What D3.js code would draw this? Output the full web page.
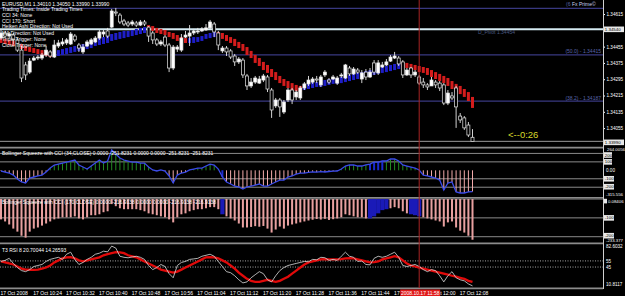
<!DOCTYPE html>
<html>
<head>
<meta charset="utf-8">
<script src="https://cdn.jsdelivr.net/npm/d3@7"></script>
<style>
  body { margin: 0; background: #000; }
  svg { display: block; }
  text { font-family: "Liberation Sans", Arial, sans-serif; }
</style>
</head>
<body>
<svg id="chart" width="625" height="296"></svg>
<script>
// ---- data ----
const startTime = new Date(2008, 9, 17, 10, 16);
const crossTime = new Date(2008, 9, 17, 11, 58);

// open, high, low, close
const candles = [
  [1.34497,1.34537,1.34488,1.34522],[1.34522,1.34532,1.34497,1.34507],[1.34507,1.34527,1.34497,1.34517],
  [1.34512,1.34522,1.34468,1.34488],[1.34488,1.34497,1.34429,1.34438],[1.34438,1.34458,1.34281,1.34301],
  [1.34365,1.34380,1.34291,1.34316],[1.34330,1.34399,1.34321,1.34384],[1.34389,1.34409,1.34384,1.34399],
  [1.34399,1.34414,1.34389,1.34404],[1.34399,1.34424,1.34389,1.34414],[1.34414,1.34458,1.34404,1.34438],
  [1.34429,1.34438,1.34399,1.34409],[1.34404,1.34488,1.34399,1.34463],[1.34458,1.34488,1.34448,1.34473],
  [1.34468,1.34497,1.34458,1.34478],[1.34473,1.34497,1.34463,1.34488],[1.34468,1.34527,1.34463,1.34517],
  [1.34507,1.34517,1.34478,1.34488],[1.34463,1.34473,1.34429,1.34448],[1.34429,1.34468,1.34419,1.34453],
  [1.34458,1.34488,1.34453,1.34478],[1.34468,1.34497,1.34463,1.34488],[1.34478,1.34507,1.34473,1.34497],
  [1.34497,1.34537,1.34488,1.34527],[1.34517,1.34537,1.34502,1.34527],[1.34532,1.34547,1.34497,1.34507],
  [1.34551,1.34640,1.34547,1.34630],[1.34625,1.34645,1.34605,1.34620],[1.34610,1.34620,1.34566,1.34576],
  [1.34581,1.34591,1.34556,1.34566],[1.34571,1.34581,1.34551,1.34561],[1.34566,1.34586,1.34556,1.34576],
  [1.34571,1.34581,1.34551,1.34561],[1.34561,1.34586,1.34556,1.34576],[1.34576,1.34586,1.34556,1.34566],
  [1.34551,1.34556,1.34478,1.34507],[1.34522,1.34532,1.34468,1.34488],[1.34488,1.34497,1.34458,1.34468],
  [1.34468,1.34488,1.34458,1.34478],[1.34502,1.34512,1.34453,1.34463],[1.34463,1.34473,1.34330,1.34350],
  [1.34350,1.34463,1.34340,1.34453],[1.34443,1.34463,1.34429,1.34453],[1.34438,1.34517,1.34429,1.34497],
  [1.34502,1.34532,1.34497,1.34512],[1.34507,1.34561,1.34458,1.34522],[1.34522,1.34542,1.34512,1.34532],
  [1.34527,1.34547,1.34517,1.34532],[1.34532,1.34551,1.34527,1.34542],[1.34537,1.34566,1.34532,1.34547],
  [1.34547,1.34586,1.34537,1.34576],[1.34566,1.34576,1.34502,1.34527],[1.34522,1.34532,1.34438,1.34463],
  [1.34434,1.34458,1.34424,1.34448],[1.34448,1.34458,1.34409,1.34429],[1.34434,1.34443,1.34394,1.34404],
  [1.34409,1.34419,1.34360,1.34380],[1.34380,1.34404,1.34370,1.34394],[1.34389,1.34399,1.34301,1.34316],
  [1.34311,1.34321,1.34242,1.34262],[1.34262,1.34301,1.34252,1.34281],[1.34281,1.34311,1.34272,1.34301],
  [1.34276,1.34311,1.34272,1.34296],[1.34291,1.34321,1.34281,1.34311],[1.34306,1.34316,1.34232,1.34247],
  [1.34242,1.34252,1.34105,1.34144],[1.34164,1.34203,1.34154,1.34193],[1.34193,1.34203,1.34110,1.34159],
  [1.34134,1.34193,1.34124,1.34183],[1.34193,1.34252,1.34183,1.34242],[1.34242,1.34252,1.34173,1.34193],
  [1.34208,1.34242,1.34193,1.34232],[1.34203,1.34262,1.34193,1.34252],[1.34252,1.34281,1.34242,1.34272],
  [1.34272,1.34311,1.34262,1.34291],[1.34281,1.34306,1.34272,1.34296],[1.34296,1.34311,1.34276,1.34291],
  [1.34267,1.34316,1.34257,1.34306],[1.34316,1.34340,1.34306,1.34330],[1.34291,1.34301,1.34272,1.34281],
  [1.34296,1.34316,1.34291,1.34306],[1.34276,1.34311,1.34267,1.34301],[1.34311,1.34326,1.34301,1.34316],
  [1.34301,1.34370,1.34296,1.34365],[1.34350,1.34360,1.34311,1.34321],[1.34321,1.34355,1.34316,1.34345],
  [1.34340,1.34350,1.34321,1.34330],[1.34296,1.34340,1.34276,1.34326],[1.34330,1.34345,1.34291,1.34306],
  [1.34306,1.34350,1.34301,1.34330],[1.34375,1.34389,1.34316,1.34330],[1.34326,1.34389,1.34316,1.34375],
  [1.34355,1.34380,1.34350,1.34365],[1.34365,1.34394,1.34360,1.34380],[1.34384,1.34414,1.34380,1.34404],
  [1.34399,1.34429,1.34394,1.34409],[1.34399,1.34409,1.34360,1.34370],[1.34380,1.34389,1.34301,1.34316],
  [1.34316,1.34350,1.34311,1.34340],[1.34350,1.34355,1.34301,1.34316],[1.34316,1.34340,1.34306,1.34330],
  [1.34306,1.34316,1.34267,1.34276],[1.34281,1.34301,1.34252,1.34267],[1.34267,1.34276,1.34242,1.34257],
  [1.34262,1.34306,1.34262,1.34291],[1.34281,1.34291,1.34252,1.34267],[1.34276,1.34286,1.34237,1.34252],
  [1.34267,1.34276,1.34168,1.34178],[1.34178,1.34242,1.34168,1.34227],[1.34213,1.34232,1.34193,1.34203],
  [1.34252,1.34262,1.34056,1.34159],[1.34114,1.34129,1.34080,1.34095],[1.34105,1.34114,1.34046,1.34056],
  [1.34070,1.34085,1.34011,1.34021],[1.34010,1.34050,1.33990,1.33990]
];

// smoothed heiken ashi ribbon: haOpen, haClose
const heikenAshi = [
  [1.34497,1.34473],[1.34493,1.34468],[1.34488,1.34463],[1.34483,1.34458],[1.34478,1.34453],[1.34468,1.34443],
  [1.34458,1.34434],[1.34453,1.34429],[1.34448,1.34424],[1.34443,1.34419],[1.34438,1.34414],[1.34434,1.34409],
  [1.34429,1.34404],[1.34404,1.34434],[1.34409,1.34438],[1.34414,1.34443],[1.34419,1.34448],[1.34424,1.34453],
  [1.34429,1.34458],[1.34434,1.34463],[1.34438,1.34468],[1.34443,1.34473],[1.34448,1.34478],[1.34458,1.34488],
  [1.34463,1.34497],[1.34468,1.34502],[1.34473,1.34507],[1.34483,1.34517],[1.34488,1.34522],[1.34493,1.34527],
  [1.34497,1.34532],[1.34502,1.34532],[1.34507,1.34537],[1.34512,1.34542],[1.34517,1.34547],[1.34522,1.34551],
  [1.34561,1.34537],[1.34556,1.34532],[1.34547,1.34522],[1.34542,1.34517],[1.34537,1.34512],[1.34527,1.34502],
  [1.34522,1.34493],[1.34512,1.34483],[1.34502,1.34473],[1.34497,1.34473],[1.34473,1.34497],[1.34473,1.34502],
  [1.34478,1.34502],[1.34483,1.34507],[1.34493,1.34517],[1.34497,1.34522],[1.34502,1.34527],[1.34527,1.34502],
  [1.34522,1.34493],[1.34512,1.34483],[1.34502,1.34473],[1.34493,1.34458],[1.34478,1.34448],[1.34468,1.34434],
  [1.34453,1.34414],[1.34434,1.34399],[1.34414,1.34375],[1.34399,1.34360],[1.34380,1.34340],[1.34365,1.34326],
  [1.34345,1.34306],[1.34330,1.34291],[1.34311,1.34276],[1.34296,1.34262],[1.34286,1.34252],[1.34276,1.34242],
  [1.34267,1.34237],[1.34262,1.34232],[1.34242,1.34272],[1.34247,1.34276],[1.34252,1.34281],[1.34257,1.34281],
  [1.34257,1.34286],[1.34262,1.34291],[1.34267,1.34296],[1.34272,1.34301],[1.34272,1.34301],[1.34276,1.34306],
  [1.34281,1.34311],[1.34286,1.34316],[1.34291,1.34321],[1.34296,1.34326],[1.34301,1.34330],[1.34306,1.34335],
  [1.34311,1.34340],[1.34316,1.34345],[1.34321,1.34350],[1.34326,1.34355],[1.34330,1.34360],[1.34335,1.34365],
  [1.34340,1.34370],[1.34345,1.34375],[1.34380,1.34355],[1.34375,1.34350],[1.34370,1.34345],[1.34365,1.34340],
  [1.34360,1.34330],[1.34355,1.34326],[1.34350,1.34316],[1.34340,1.34306],[1.34330,1.34296],[1.34321,1.34286],
  [1.34311,1.34276],[1.34301,1.34262],[1.34286,1.34247],[1.34272,1.34232],[1.34262,1.34222],[1.34247,1.34208],
  [1.34232,1.34188],[1.34208,1.34154]
];

const cci34 = [
  -8,-20,-32,-56,-103,-138,-150,-91,-79,-67, -56,-20,27,63,74,86,98,110,122,63,
  39,15,51,86,122,86,110,240,193,145, 122,110,98,98,86,86,39,4,-8,4,
  -8,-67,-150,-56,-32,-20,4,15,27,27, 51,74,63,15,-79,-138,-162,-186,-197,-221,
  -197,-186,-174,-162,-186,-186,-162,-138,-115,-115, -79,-67,-44,-32,-32,-24,-18,-22,-16,-20,
  -14,-10,-8,15,51,63,63,51,51,63, 74,98,98,110,110,134,134,110,63,51,
  39,27,4,-56,-67,-79,-91,-115,-233,-150, -138,-256,-268,-268,-256,-251.8231
];
const cci170 = [
  -108,-119,-135,-157,-173,-195,-205,-173,-157,-151, -141,-130,-119,-108,-103,-97,-97,-97,-92,-103,
  -108,-97,-86,-86,-81,-70,-65,-27,-38,-49, -54,-54,-54,-54,-59,-65,-76,-81,-86,-92,
  -97,-108,-124,-97,-81,-76,-65,-59,-54,-54, -49,-43,-43,-54,-81,-92,-103,-114,-130,-151,
  -151,-148,-144,-147,-143,-157,-178,-162,-146,-157, -141,-135,-130,-124,-119,-114,-110,-106,-109,-105,
  -111,-107,-103,-97,-81,-86,-92,-97,-97,-103, -103,-92,-76,-59,-54,-49,-43,-49,-65,-76,
  -81,-86,-92,-97,-103,-108,-114,-119,-146,-124, -119,-151,-168,-178,-195,-216
];
const squeeze34 = [54, 90, 91, 92, 93];
const squeeze170 = [54, 90, 91, 92, 93, 94, 100, 101, 102];

const rsi8 = [
  54.2,55.9,59.2,50.9,44.2,39.2,37.5,40.8,45.9,47.5, 49.2,54.2,57.5,59.2,60.9,57.5,65.9,69.2,57.5,49.2,
  52.5,57.5,60.9,65.9,67.6,70.9,69.8,79.2,75.9,62.6, 60.9,60.1,61.5,62.6,60.9,57.5,47.5,40.8,44.2,49.2,
  45.9,34.2,27.5,47.5,52.5,54.2,57.5,58.3,59.2,62.6, 64.2,65.9,62.6,54.2,45.9,37.5,35.8,30.8,24.2,19.1,
  20.8,27.5,32.5,37.5,34.2,24.2,20.8,30.8,39.2,44.2, 47.5,49.2,50.9,52.5,54.2,53.6,57.5,56.8,60.9,60.2,
  55.9,57.5,55.9,62.6,69.2,62.6,60.9,54.2,54.9,49.2, 48.6,59.2,62.6,60.9,62.6,65.9,69.2,60.9,47.5,45.9,
  47.5,49.2,45.9,40.8,37.5,40.8,39.2,30.8,20.8,30.8, 37.5,27.5,24.2,22.5,17.5,14.26593
];
const t3rsi = [
  54.2,52.5,50.9,49.2,45.9,42.5,40.8,40.6,40.5,40.8, 42.5,44.2,47.5,52.5,55.9,59.2,60.9,61.2,59.2,55.9,
  54.2,55.9,57.5,59.2,60.9,64.2,65.9,67.6,69.2,68.8, 67.6,64.2,62.6,60.9,57.5,54.2,50.9,47.5,44.2,40.8,
  39.2,37.5,35.8,37.5,40.8,44.2,47.5,50.9,54.2,57.5, 60.9,61.3,60.9,59.2,55.9,52.5,47.5,42.5,35.8,30.8,
  25.8,22.5,20.8,20.9,22.5,24.2,22.5,20.8,22.5,25.8, 29.2,34.2,39.2,44.2,49.2,52.5,54.2,55.9,57.5,57.8,
  57.6,57.4,57.5,57.9,59.2,59.4,59.1,57.5,55.9,54.2, 52.5,52.9,54.2,57.5,59.2,60.9,62.6,60.9,55.9,50.9,
  47.5,45.9,44.2,42.5,40.8,39.2,37.5,35.8,34.2,32.5, 30.8,29.2,27.5,25.8,22.5,20.70044
];

const priceTicks = [1.34615, 1.34455, 1.34375, 1.34295, 1.34215, 1.34135, 1.34055];
const fibNames = ["61.8", "50.0", "38.2"];
const fibPrices = [1.34643, 1.34415, 1.34187];
const pivotPrice = 1.34540;
const bidPrice = 1.33990;
const cci34Levels = [200, 100, -100, -200];
const cci170Levels = [0, -100, -200];
const rsiLevels = [55, 45];
const commentLines = [
  "EURUSD,M1  1.34010 1.34050 1.33990 1.33990",
  "Trading Times: Inside Trading Times",
  "CCI 34: None",
  "CCI 170: Short",
  "Heiken Ashi Direction: Not Used",
  "MA Direction: Not Used",
  "Triple Trigger: None",
  "Close Trigger: None"
];

// ---- layout ----
const W = 625, H = 296, plotRight = 603;
const svg = d3.select("#chart");
svg.append("rect").attr("width", W).attr("height", H).attr("fill", "#000");

const times = candles.map((d, i) => d3.timeMinute.offset(startTime, i));
const x = d3.scaleTime().domain(d3.extent(times)).range([1, 472.5]);

const yPrice = d3.scaleLinear().domain([1.33972, 1.34684]).range([145, 0]);
const yCci34 = d3.scaleLinear().domain([-315.556, 264.0056]).range([197, 148]);
const yCci170 = d3.scaleLinear().domain([-233.377, 0.08406]).range([243, 199]);
const yRsi = d3.scaleLinear().domain([10.8117, 82.6032]).range([288, 244]);

const defs = svg.append("defs");
function clip(id, y0, y1) {
  defs.append("clipPath").attr("id", id).append("rect")
    .attr("x", 0).attr("y", y0).attr("width", plotRight).attr("height", y1 - y0);
  return svg.append("g").attr("clip-path", "url(#" + id + ")");
}

function hline(g, y, color, w, dash) {
  g.append("line").attr("x1", 0).attr("x2", plotRight).attr("y1", y).attr("y2", y)
    .attr("stroke", color).attr("stroke-width", w).attr("stroke-dasharray", dash || null);
}

function label(g, txt, xx, yy, color, size, anchor) {
  return g.append("text").attr("x", xx).attr("y", yy).attr("fill", color)
    .attr("font-size", size).attr("text-anchor", anchor || "start").text(txt);
}

// ---- main price panel ----
const gMain = clip("clip-main", 0, 146);

fibPrices.forEach(p => hline(gMain, yPrice(p), "#383880", 1.2));
hline(gMain, yPrice(pivotPrice), "#d4eaf2", 2);
hline(gMain, yPrice(bidPrice), "#9a9a9a", 1);

gMain.append("g").selectAll("rect")
  .data(heikenAshi)
  .enter().append("rect")
  .attr("x", (d, i) => x(times[i]) - 1.5)
  .attr("width", 3)
  .attr("y", d => yPrice(Math.max(d[0], d[1])))
  .attr("height", d => Math.max(1, Math.abs(yPrice(d[0]) - yPrice(d[1]))))
  .attr("fill", d => d[1] < d[0] ? "#d41c1c" : "#1e1ec8");

const gCandles = gMain.append("g");
gCandles.selectAll("line")
  .data(candles)
  .enter().append("line")
  .attr("x1", (d, i) => x(times[i])).attr("x2", (d, i) => x(times[i]))
  .attr("y1", d => yPrice(d[1])).attr("y2", d => yPrice(d[2]))
  .attr("stroke", "#e8e8e8").attr("stroke-width", 0.9);
gCandles.selectAll("rect")
  .data(candles)
  .enter().append("rect")
  .attr("x", (d, i) => x(times[i]) - 1.5)
  .attr("width", 3)
  .attr("y", d => yPrice(Math.max(d[0], d[3])))
  .attr("height", d => Math.max(1, Math.abs(yPrice(d[0]) - yPrice(d[3]))))
  .attr("fill", d => d[3] >= d[0] ? "#ffffff" : "#000000")
  .attr("stroke", "#e8e8e8").attr("stroke-width", 0.7);

// comment block
const commentY = [5.8, 11.3, 16.8, 22.8, 27.8, 34.8, 40.8, 47.3];
commentLines.forEach((t, i) => label(svg, t, 2, commentY[i], "#ffffff", 5));

// line labels
fibNames.forEach((n, i) => {
  if (i === 0) return;
  label(svg, "(" + n + ") - " + d3.format(".5f")(fibPrices[i]), 601, yPrice(fibPrices[i]) - 1.5, "#5a64aa", 5, "end");
});
label(svg, "(6", 566, 6, "#5a64aa", 5);
label(svg, "Fx Prime\u00a9", 572, 6, "#c8d0f0", 5);
label(svg, "D_Pivot 1.34454", 478, 33.5, "#4a5a80", 5);
label(svg, "<--0:26", 508, 137.5, "#d8d82a", 9.5);

// ---- CCI 34 panel ----
const gC34 = clip("clip-c34", 148, 197.5);
cci34Levels.forEach(v => hline(gC34, yCci34(v), "#8a8a8a", 1));
gC34.append("g").selectAll("line")
  .data(cci34)
  .enter().append("line")
  .attr("x1", (d, i) => x(times[i])).attr("x2", (d, i) => x(times[i]))
  .attr("y1", yCci34(0)).attr("y2", d => yCci34(d))
  .attr("stroke", (d, i) => squeeze34.includes(i) ? "#1a2ad0" : (d >= 0 ? "#228a22" : "#f2aaaa"))
  .attr("stroke-width", (d, i) => squeeze34.includes(i) ? 2 : 1);
gC34.append("path")
  .datum(cci34)
  .attr("fill", "none")
  .attr("stroke", "#3a4ae8")
  .attr("stroke-width", 1.3)
  .attr("d", d3.line().x((d, i) => x(times[i])).y(d => yCci34(d)));
label(svg, "Bollinger Squeeze with CCI (34,CLOSE) 0.0000 -251.8231 0.0000 0.0000 -251.8231 -251.8231", 2, 154.5, "#ffffff", 5);

// ---- CCI 170 panel ----
const gC170 = clip("clip-c170", 198, 243);
cci170Levels.forEach(v => hline(gC170, yCci170(v), "#8a8a8a", 1));
gC170.append("g").selectAll("rect")
  .data(cci170)
  .enter().append("rect")
  .attr("x", (d, i) => x(times[i]) - (squeeze170.includes(i) ? 2.1 : 1))
  .attr("width", (d, i) => squeeze170.includes(i) ? 4.2 : 2)
  .attr("y", yCci170(0))
  .attr("height", d => yCci170(d) - yCci170(0))
  .attr("fill", (d, i) => squeeze170.includes(i) ? "#1a1ab8" : "#e8a0a0");
label(svg, "Bollinger Squeeze with CCI (170,CLOSE) 0.0000 -216.9138 0.0000 0.0000 -216.9138 -216.9138", 2, 204, "#ffffff", 5);

// ---- T3 RSI panel ----
const gRsi = clip("clip-rsi", 244, 288);
rsiLevels.forEach(v => hline(gRsi, yRsi(v), "#d0d0d0", 0.8, "1,1.5"));
gRsi.append("path")
  .datum(t3rsi)
  .attr("fill", "none").attr("stroke", "#e00a0a").attr("stroke-width", 2.3)
  .attr("d", d3.line().x((d, i) => x(times[i])).y(d => yRsi(d)));
gRsi.append("path")
  .datum(rsi8)
  .attr("fill", "none").attr("stroke", "#dcdcdc").attr("stroke-width", 0.8)
  .attr("d", d3.line().x((d, i) => x(times[i])).y(d => yRsi(d)));
label(svg, "T3 RSI 8 20.70044 14.26593", 2, 251.5, "#ffffff", 5);

// ---- separators ----
[147.6, 197.8, 243.4, 288.4].forEach(y => hline(svg, y, "#8c8c8c", 1.6));

// crosshair
const cx = x(crossTime);
svg.append("line").attr("x1", cx).attr("x2", cx).attr("y1", 0).attr("y2", 288)
  .attr("stroke", "#a82424").attr("stroke-width", 1);

// ---- right price axis ----
const axisG = svg.append("g").attr("transform", "translate(" + plotRight + ",0)")
  .call(d3.axisRight(yPrice).tickValues(priceTicks).tickFormat(d3.format(".5f")).tickSize(2).tickPadding(1.5));
axisG.select(".domain").remove();
axisG.selectAll("line").attr("stroke", "#fff");
axisG.selectAll("text").attr("fill", "#fff").attr("font-size", 4.6);
svg.append("line").attr("x1", plotRight + 0.5).attr("x2", plotRight + 0.5).attr("y1", 0).attr("y2", 289)
  .attr("stroke", "#d0d0d0").attr("stroke-width", 1);

function box(txt, yy, w) {
  svg.append("rect").attr("x", plotRight + 1).attr("y", yy - 2.8).attr("width", w).attr("height", 5.6)
    .attr("fill", "#e8e8e8");
  label(svg, txt, plotRight + 1.8, yy + 1.6, "#000", 4.4);
}
box(d3.format(".5f")(pivotPrice), yPrice(pivotPrice), 20);
box(d3.format(".5f")(bidPrice), yPrice(bidPrice) + 1, 20);

// CCI 34 scale
label(svg, "264.0056", plotRight + 4, 150.9, "#fff", 4.3);
box("200", 155, 8);
box("100", yCci34(100), 8);
box("-100", yCci34(-100), 10);
box("-200", yCci34(-200) - 0.5, 10);
label(svg, "0.00", plotRight + 3, yCci34(0) + 1.7, "#fff", 4.6);
label(svg, "-315.556", plotRight + 3, 195.8, "#fff", 4.3);

// CCI 170 scale
svg.append("rect").attr("x", plotRight + 1).attr("y", 198.8).attr("width", 3).attr("height", 4.6).attr("fill", "#e8e8e8");
label(svg, "0.08406", plotRight + 5, 202.8, "#fff", 4.3);
box("-100", yCci170(-100), 10);
box("-200", yCci170(-200) - 1, 10);
label(svg, "-233.377", plotRight + 3, 242.4, "#fff", 4.3);

// RSI scale
label(svg, "82.6032", plotRight + 3, 248, "#fff", 4.6);
rsiLevels.forEach(v => label(svg, String(v), plotRight + 3, yRsi(v) + 1.7, "#fff", 4.6));
label(svg, "10.8117", plotRight + 3, 285.5, "#fff", 4.6);

// ---- time axis ----
const timeTicks = times.filter((t, i) => i % 8 === 0);
const fmt = d3.timeFormat("%d %b %H:%M");
const tAxis = svg.append("g").attr("transform", "translate(0,289)")
  .call(d3.axisBottom(x).tickValues(timeTicks).tickSize(0).tickPadding(0)
    .tickFormat((d, i) => i === 0 ? "17 Oct 2008" : fmt(d)));
tAxis.select(".domain").remove();
tAxis.selectAll("text").attr("fill", "#fff").attr("font-size", 5)
  .attr("text-anchor", "start").attr("dx", -1).attr("dy", 0).attr("y", 5.5);

svg.append("rect").attr("x", cx - 19).attr("y", 289.5).attr("width", 40).attr("height", 6.5)
  .attr("fill", "#e01a1a");
label(svg, d3.timeFormat("%Y.%m.%d %H:%M")(crossTime), cx + 1, 294.6, "#fff", 5, "middle");
</script>
</body>
</html>
